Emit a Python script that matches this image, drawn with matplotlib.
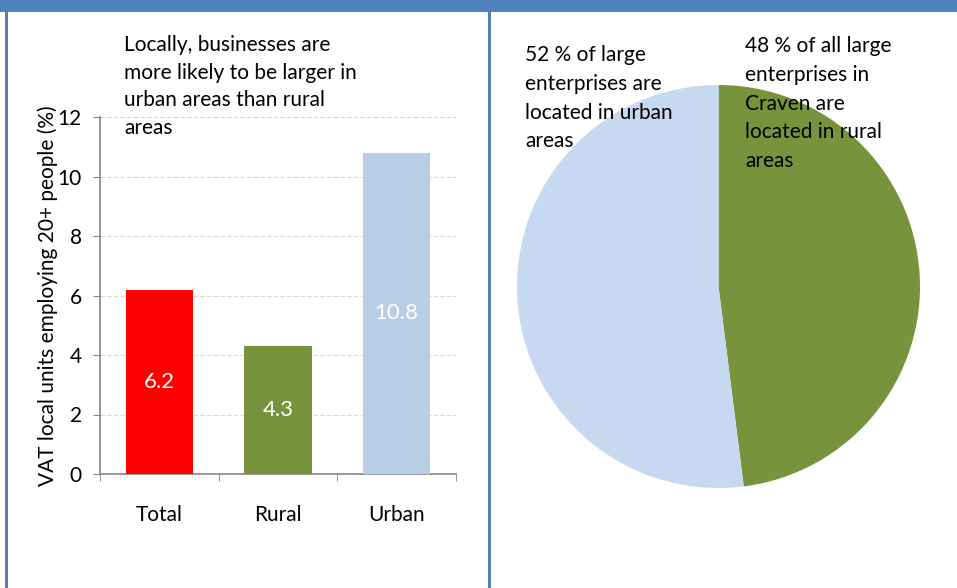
import numpy as np
import matplotlib as mpl
import matplotlib.pyplot as plt
from matplotlib.patches import Rectangle

mpl.use('Agg')
mpl.rcParams['font.family'] = ['Lato', 'DejaVu Sans']
mpl.rcParams['font.size'] = 15

categories = ['Total', 'Rural', 'Urban']
bar_values = [6.2, 4.3, 10.8]
bar_labels = ['6.2', '4.3', '10.8']
bar_colors = ['#FF0000', '#77933C', '#B9CDE5']
y_ticks = [0, 2, 4, 6, 8, 10, 12]

pie_labels = ['Rural', 'Urban']
pie_values = [48, 52]
pie_colors = ['#77933C', '#C6D9F1']

W, H = 957, 588
FRAME = '#4F81BD'


def px_rect(x0, y0, x1, y1):
    """pixel box (top-left origin) -> figure fraction [l, b, w, h]"""
    return [x0 / W, 1 - y1 / H, (x1 - x0) / W, (y1 - y0) / H]


def px_text(fig, x, y, s, **kw):
    fig.text(x / W, 1 - y / H, s, **kw)


fig = plt.figure(figsize=(W / 100, H / 100), dpi=100)

# blue frame
for box in [(0, 0, W, 12), (5, 0, 8, H), (488, 0, 491, H)]:
    l, b, w, h = px_rect(*box)
    fig.patches.append(Rectangle((l, b), w, h, transform=fig.transFigure,
                                 facecolor=FRAME, edgecolor='none', zorder=0))

# bar chart
ax = fig.add_axes(px_rect(100, 117, 456, 474))
x = np.arange(len(categories))
bars = ax.bar(x, bar_values, width=0.57, color=bar_colors, zorder=3)
ax.bar_label(bars, labels=bar_labels, label_type='center', color='white', fontsize=16)
ax.set_xlim(-0.5, 2.5)
ax.set_ylim(0, 12)
ax.set_yticks(y_ticks)
ax.set_xticks(x)
ax.set_xticklabels(categories)
ax.set_xticks([-0.5, 0.5, 1.5, 2.5], minor=True)
ax.tick_params(axis='x', which='major', length=0, pad=22)
ax.tick_params(axis='x', which='minor', length=5, color='#868686', direction='out')
ax.tick_params(axis='y', length=5, color='#868686', pad=8)
ax.grid(axis='y', color='#DDD9C3', linestyle=(0, (4, 2)), linewidth=0.8, zorder=0)
for side in ['top', 'right']:
    ax.spines[side].set_visible(False)
for side in ['left', 'bottom']:
    ax.spines[side].set_color('#868686')
    ax.spines[side].set_linewidth(1.2)
ax.set_ylabel('VAT local units employing 20+ people (%)', labelpad=0)

px_text(fig, 124, 35, 'Locally, businesses are\nmore likely to be larger in\nurban areas than rural\nareas',
        va='top', ha='left', linespacing=1.47)

# pie chart
pax = fig.add_axes(px_rect(517, 85, 920, 488))
pax.pie(pie_values, colors=pie_colors, startangle=90, counterclock=False,
        wedgeprops=dict(linewidth=0))
pax.set_xlim(-1, 1)
pax.set_ylim(-1, 1)
pax.set_aspect('equal')

px_text(fig, 525, 45, '52 % of large\nenterprises are\nlocated in urban\nareas',
        va='top', ha='left', linespacing=1.55)
px_text(fig, 745, 36, '48 % of all large\nenterprises in\nCraven are\nlocated in rural\nareas',
        va='top', ha='left', linespacing=1.55)

plt.savefig('out.png', dpi=100)
plt.close()
